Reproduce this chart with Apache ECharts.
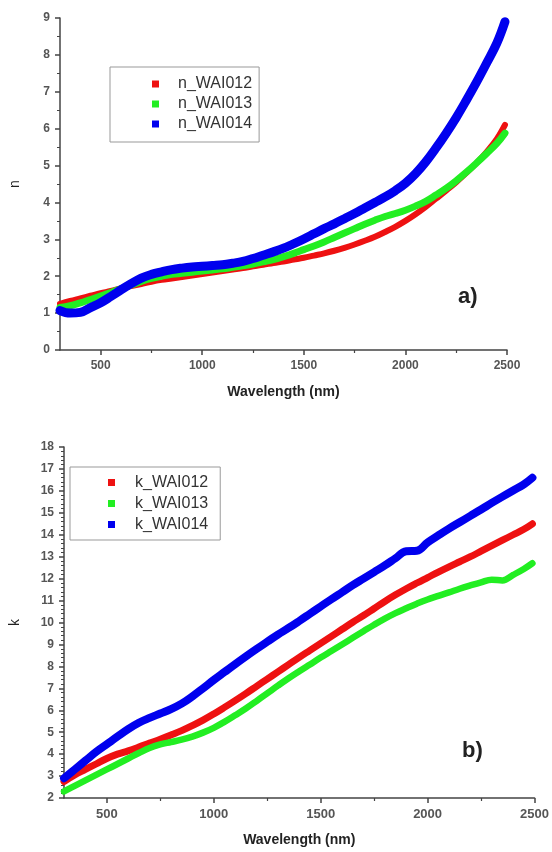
<!DOCTYPE html>
<html>
<head>
<meta charset="utf-8">
<script src="https://cdn.jsdelivr.net/npm/echarts@6/dist/echarts.min.js"></script>
<style>
  html, body { margin: 0; padding: 0; background: #fff; }
  #chart { width: 552px; height: 852px; }
</style>
</head>
<body>
<div id="chart"></div>
<script>
// wavelength grid (nm), shared by both panels
const wavelength = [300, 350, 400, 450, 500, 550, 600, 650, 700, 750, 800, 850, 900, 950, 1000,
  1050, 1100, 1150, 1200, 1250, 1300, 1350, 1400, 1450, 1500, 1550, 1600, 1650, 1700, 1750,
  1800, 1850, 1900, 1950, 2000, 2050, 2100, 2150, 2200, 2250, 2300, 2350, 2400, 2450, 2490];

// panel a) refractive index n
const nWAI012 = [1.25, 1.33, 1.4, 1.47, 1.54, 1.6, 1.67, 1.73, 1.79, 1.85, 1.9, 1.94, 1.98, 2.02, 2.06,
  2.1, 2.14, 2.18, 2.22, 2.27, 2.31, 2.36, 2.4, 2.45, 2.5, 2.56, 2.62, 2.69, 2.77, 2.86,
  2.96, 3.07, 3.2, 3.34, 3.5, 3.68, 3.88, 4.1, 4.32, 4.55, 4.8, 5.07, 5.37, 5.72, 6.1];
const nWAI013 = [1.15, 1.2, 1.28, 1.37, 1.46, 1.56, 1.66, 1.76, 1.86, 1.94, 2.0, 2.05, 2.08, 2.11, 2.14,
  2.17, 2.2, 2.24, 2.28, 2.33, 2.39, 2.45, 2.53, 2.62, 2.72, 2.82, 2.93, 3.05, 3.17, 3.29,
  3.41, 3.52, 3.62, 3.7, 3.79, 3.9, 4.03, 4.2, 4.38, 4.59, 4.82, 5.07, 5.33, 5.6, 5.88];
const nWAI014 = [1.07, 1.0, 1.02, 1.15, 1.28, 1.45, 1.63, 1.8, 1.95, 2.05, 2.12, 2.18, 2.22, 2.25, 2.27,
  2.29, 2.31, 2.35, 2.4, 2.48, 2.57, 2.66, 2.76, 2.88, 3.01, 3.15, 3.29, 3.42, 3.56, 3.7,
  3.85, 4.0, 4.15, 4.32, 4.52, 4.78, 5.1, 5.47, 5.87, 6.3, 6.77, 7.26, 7.78, 8.32, 8.9];

// panel b) extinction coefficient k
const kWAI012 = [2.75, 3.05, 3.3, 3.55, 3.8, 4.0, 4.15, 4.32, 4.5, 4.68, 4.87, 5.07, 5.3, 5.55, 5.83,
  6.13, 6.44, 6.76, 7.09, 7.42, 7.75, 8.08, 8.41, 8.73, 9.05, 9.37, 9.69, 10.01, 10.32, 10.64,
  10.96, 11.26, 11.54, 11.8, 12.05, 12.3, 12.54, 12.77, 13.0, 13.25, 13.5, 13.75, 14.0, 14.25, 14.5];
const kWAI013 = [2.3, 2.55, 2.8, 3.05, 3.3, 3.55, 3.8, 4.05, 4.28, 4.44, 4.55, 4.66, 4.8, 4.98, 5.2,
  5.47, 5.77, 6.08, 6.42, 6.77, 7.12, 7.46, 7.78, 8.09, 8.4, 8.7, 9.0, 9.3, 9.6, 9.9,
  10.18, 10.43, 10.65, 10.86, 11.05, 11.21, 11.37, 11.54, 11.69, 11.83, 11.95, 11.92, 12.17, 12.44, 12.7];
const kWAI014 = [2.9, 3.3, 3.7, 4.1, 4.45, 4.8, 5.14, 5.43, 5.65, 5.85, 6.05, 6.3, 6.63, 7.0, 7.38,
  7.74, 8.1, 8.45, 8.79, 9.12, 9.45, 9.75, 10.07, 10.4, 10.73, 11.06, 11.38, 11.7, 12.0, 12.3,
  12.6, 12.93, 13.25, 13.27, 13.65, 13.97, 14.28, 14.57, 14.86, 15.15, 15.45, 15.74, 16.02, 16.3, 16.6];

// tick labels
const xMajorTicks = [500, 1000, 1500, 2000, 2500];
const xMinorTicks = [750, 1250, 1750, 2250];

const RED = '#ee1111';
const GREEN = '#22ee22';
const BLUE = '#0000ee';
const AXIS = '#444';
const FONT = 'Liberation Sans, Arial, sans-serif';

const chart = echarts.init(document.getElementById('chart'));

const pairs = (ys) => wavelength.map((x, i) => [x, ys[i]]);

// main x axis with labels and major ticks
const mainX = (gridIndex, fontSize) => ({
  type: 'value', gridIndex, min: 300, max: 2500, position: 'bottom',
  name: 'Wavelength (nm)', nameLocation: 'middle', nameGap: 35,
  nameTextStyle: { fontFamily: FONT, fontSize: 14, fontWeight: 'bold', color: '#222' },
  axisLine: { show: true, lineStyle: { color: AXIS, width: 1.5 } },
  axisTick: { show: true, length: 5, customValues: xMajorTicks, lineStyle: { color: AXIS, width: 1.5 } },
  axisLabel: {
    customValues: xMajorTicks, margin: 10, formatter: (v) => String(v),
    fontFamily: FONT, fontSize, fontWeight: 'bold', color: '#555'
  },
  splitLine: { show: false }
});

// overlay axis that only carries the short minor ticks
const minorX = (gridIndex) => ({
  type: 'value', gridIndex, min: 300, max: 2500, position: 'bottom',
  axisLine: { show: false },
  axisTick: { show: true, length: 3, customValues: xMinorTicks, lineStyle: { color: AXIS, width: 1.2 } },
  axisLabel: { show: false },
  splitLine: { show: false }
});

const yAxisOf = (gridIndex, name, min, max, minorSplit, nameGap, fontSize) => ({
  type: 'value', gridIndex, min, max, interval: 1,
  name, nameLocation: 'middle', nameGap,
  nameTextStyle: { fontFamily: FONT, fontSize: 14, color: '#222' },
  axisLine: { show: true, lineStyle: { color: AXIS, width: 1.5 } },
  axisTick: { show: true, length: 5, lineStyle: { color: AXIS, width: 1.5 } },
  minorTick: { show: true, splitNumber: minorSplit, length: 3, lineStyle: { color: AXIS, width: 1 } },
  axisLabel: { margin: 10, fontFamily: FONT, fontSize, fontWeight: 'bold', color: '#555' },
  splitLine: { show: false }
});

const lineSeries = (name, color, width, xIdx, yIdx, ys) => ({
  name, type: 'line', xAxisIndex: xIdx, yAxisIndex: yIdx,
  data: pairs(ys), showSymbol: false, symbol: 'none', smooth: 0.4,
  itemStyle: { color },
  lineStyle: { color, width, cap: 'round', join: 'round' },
  emphasis: { disabled: true }
});

const option = {
  animation: false,
  backgroundColor: '#fff',
  grid: [
    { left: 54, top: 18, width: 453, height: 332 },
    { left: 58, top: 447, width: 479, height: 351 }
  ],
  xAxis: [mainX(0, 12), minorX(0), mainX(1, 13), minorX(1)],
  yAxis: [
    yAxisOf(0, 'n', 0, 9, 2, 38, 12),
    yAxisOf(1, 'k', 2, 18, 5, 42, 12)
  ],
  legend: [
    {
      data: ['n_WAI012', 'n_WAI013', 'n_WAI014'],
      left: 110, top: 67, orient: 'vertical',
      icon: 'rect', itemWidth: 7, itemHeight: 7, itemGap: 0,
      padding: [7, 7, 8, 42],
      borderColor: '#999', borderWidth: 1,
      textStyle: { fontFamily: FONT, fontSize: 16, color: '#333', lineHeight: 20, padding: [0, 0, 0, 14] }
    },
    {
      data: ['k_WAI012', 'k_WAI013', 'k_WAI014'],
      left: 70, top: 467, orient: 'vertical',
      icon: 'rect', itemWidth: 7, itemHeight: 7, itemGap: 0,
      padding: [5, 12, 5, 38],
      borderColor: '#999', borderWidth: 1,
      textStyle: { fontFamily: FONT, fontSize: 16, color: '#333', lineHeight: 21, padding: [0, 0, 0, 15] }
    }
  ],
  graphic: [
    { type: 'text', left: 458, top: 286, style: { text: 'a)', font: 'bold 22px ' + FONT, fill: '#222' } },
    { type: 'text', left: 462, top: 740, style: { text: 'b)', font: 'bold 22px ' + FONT, fill: '#222' } }
  ],
  series: [
    lineSeries('n_WAI012', RED, 6, 0, 0, nWAI012),
    lineSeries('n_WAI013', GREEN, 7, 0, 0, nWAI013),
    lineSeries('n_WAI014', BLUE, 9, 0, 0, nWAI014),
    lineSeries('k_WAI012', RED, 7, 2, 1, kWAI012),
    lineSeries('k_WAI013', GREEN, 6.5, 2, 1, kWAI013),
    lineSeries('k_WAI014', BLUE, 8, 2, 1, kWAI014)
  ]
};

chart.setOption(option);
</script>
</body>
</html>
